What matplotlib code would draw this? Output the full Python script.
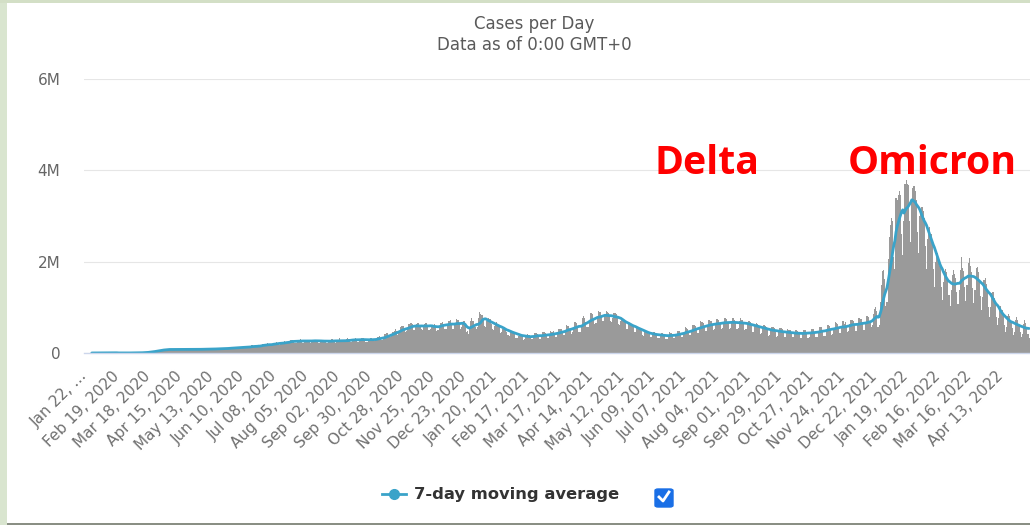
import matplotlib.pyplot as plt
import numpy as np
import pandas as pd
from matplotlib.lines import Line2D
from matplotlib.patches import Rectangle, FancyBboxPatch

# daily new cases (thousands), one row per week starting Wed Jan 22, 2020
cases_by_week = [
    [0.6, 0.3, 0.3, 0.7, 0.8, 1.4, 1.8],
    [1.8, 2.1, 2.6, 2.1, 2.6, 3.2, 3.9],
    [3.7, 3.2, 3.4, 2.7, 2.6, 2.1, 2.0],
    [2.0, 15.1, 6.5, 2.1, 2.6, 2.0, 1.9],
    [0.5, 0.6, 1.0, 0.7, 0.9, 0.6, 0.9],
    [1.1, 1.4, 1.9, 1.8, 2.0, 2.0, 2.4],
    [2.6, 2.7, 4.0, 3.9, 3.9, 4.2, 4.5],
    [7.4, 7.5, 11.0, 11.9, 13.8, 16.1, 14.3],
    [18.7, 27.5, 31.9, 31.4, 34.1, 41.2, 41.5],
    [49.5, 62.4, 62.2, 64.8, 58.7, 61.5, 73.5],
    [77.2, 81.8, 84.1, 83.6, 70.6, 69.8, 75.2],
    [80.2, 87.4, 90.9, 81.5, 74.4, 70.5, 76.1],
    [78, 84, 88, 80, 74, 72, 77],
    [81, 84, 90, 83, 72, 71, 76],
    [80, 86, 89, 85, 76, 75, 82],
    [90, 92, 94, 88, 77, 74, 85],
    [91, 98, 99, 92, 81, 80, 93],
    [101, 107, 106, 103, 85, 85, 94],
    [107, 118, 125, 111, 99, 95, 106],
    [124, 130, 131, 128, 103, 107, 122],
    [136, 136, 144, 136, 113, 121, 141],
    [142, 180, 149, 155, 123, 132, 151],
    [169, 177, 178, 191, 163, 150, 167],
    [191, 210, 202, 186, 170, 166, 210],
    [216, 229, 237, 211, 184, 191, 221],
    [232, 245, 258, 246, 206, 216, 239],
    [285, 290, 286, 255, 213, 229, 255],
    [295, 290, 296, 262, 213, 228, 264],
    [280, 290, 292, 265, 224, 230, 275],
    [294, 290, 290, 259, 218, 227, 275],
    [280, 285, 283, 256, 216, 226, 263],
    [283, 289, 296, 268, 230, 227, 266],
    [282, 290, 322, 268, 236, 230, 246],
    [293, 302, 318, 296, 251, 246, 278],
    [312, 314, 326, 296, 249, 256, 287],
    [322, 318, 329, 289, 248, 246, 286],
    [312, 338, 320, 290, 255, 257, 303],
    [347, 358, 365, 337, 292, 283, 324],
    [410, 430, 440, 405, 345, 360, 410],
    [470, 480, 515, 485, 405, 435, 490],
    [560, 585, 600, 530, 470, 480, 540],
    [625, 645, 660, 630, 500, 510, 570],
    [628, 649, 664, 613, 515, 498, 570],
    [635, 660, 662, 613, 506, 528, 568],
    [620, 590, 640, 600, 490, 510, 590],
    [655, 667, 688, 636, 527, 533, 610],
    [692, 707, 720, 648, 525, 528, 628],
    [735, 730, 720, 645, 535, 560, 640],
    [690, 600, 470, 480, 420, 540, 710],
    [770, 700, 560, 560, 520, 560, 760],
    [890, 850, 840, 730, 590, 580, 700],
    [750, 760, 740, 640, 520, 510, 600],
    [660, 670, 640, 560, 440, 450, 520],
    [570, 560, 530, 470, 390, 380, 450],
    [490, 480, 470, 410, 330, 330, 380],
    [420, 420, 410, 380, 290, 300, 350],
    [410, 400, 390, 360, 300, 310, 370],
    [440, 430, 420, 380, 310, 310, 370],
    [460, 450, 440, 400, 330, 320, 400],
    [490, 470, 480, 430, 360, 350, 430],
    [530, 530, 530, 470, 390, 400, 490],
    [620, 600, 590, 520, 420, 460, 540],
    [680, 680, 660, 590, 470, 470, 570],
    [760, 800, 760, 680, 560, 560, 690],
    [880, 880, 860, 750, 630, 650, 780],
    [930, 900, 900, 820, 690, 710, 830],
    [920, 900, 880, 810, 690, 680, 770],
    [870, 870, 860, 770, 630, 620, 710],
    [760, 740, 720, 650, 530, 530, 630],
    [660, 640, 630, 560, 470, 460, 540],
    [570, 560, 550, 490, 400, 380, 460],
    [490, 490, 470, 420, 340, 340, 410],
    [460, 450, 440, 390, 320, 320, 380],
    [440, 430, 420, 380, 310, 310, 370],
    [450, 440, 430, 390, 320, 320, 400],
    [490, 480, 480, 430, 350, 350, 430],
    [560, 550, 530, 470, 390, 400, 490],
    [620, 620, 600, 540, 440, 440, 540],
    [690, 680, 660, 590, 490, 490, 600],
    [720, 720, 700, 630, 510, 520, 640],
    [740, 750, 720, 650, 530, 550, 680],
    [760, 760, 740, 660, 530, 550, 690],
    [770, 760, 730, 650, 520, 540, 690],
    [760, 730, 720, 630, 500, 530, 660],
    [710, 690, 680, 590, 470, 470, 610],
    [660, 640, 620, 550, 420, 430, 570],
    [610, 590, 570, 500, 380, 400, 510],
    [570, 560, 550, 470, 360, 370, 480],
    [540, 540, 520, 450, 350, 350, 460],
    [520, 510, 500, 430, 340, 340, 430],
    [500, 500, 490, 420, 330, 330, 430],
    [510, 510, 500, 430, 330, 340, 440],
    [530, 530, 520, 450, 350, 360, 460],
    [570, 570, 560, 480, 370, 380, 500],
    [620, 620, 600, 520, 400, 410, 530],
    [670, 660, 640, 560, 440, 440, 570],
    [700, 630, 680, 600, 470, 480, 630],
    [730, 720, 710, 620, 480, 490, 640],
    [770, 760, 740, 650, 500, 510, 670],
    [800, 820, 790, 690, 560, 610, 860],
    [960, 1000, 930, 560, 620, 1120, 1480],
    [1800, 1820, 1620, 1040, 1120, 2060, 2530],
    [2800, 2950, 2900, 2100, 1850, 3400, 3350],
    [3450, 3550, 3450, 2600, 2150, 2900, 3700],
    [3780, 3700, 3680, 2890, 2430, 3300, 3620],
    [3650, 3550, 3350, 2650, 2200, 3000, 3150],
    [3200, 3100, 2950, 2350, 1850, 2500, 2650],
    [2750, 2600, 2400, 1850, 1450, 2000, 2150],
    [2200, 2050, 1900, 1450, 1150, 1550, 1800],
    [1840, 1770, 1600, 1280, 1030, 1390, 1700],
    [1820, 1730, 1650, 1330, 1070, 1370, 1820],
    [2100, 1870, 1800, 1450, 1140, 1480, 1960],
    [2070, 1900, 1770, 1430, 1100, 1370, 1860],
    [1890, 1780, 1600, 1250, 950, 1220, 1600],
    [1640, 1510, 1380, 1010, 790, 1000, 1320],
    [1330, 1200, 1050, 780, 620, 760, 980],
    [1020, 950, 820, 610, 460, 560, 800],
    [860, 800, 700, 540, 400, 460, 720],
    [780, 720, 620, 450, 340, 410, 640],
    [720, 660, 580, 420, 330],
]

tick_labels = [
    "Jan 22, \u2026", "Feb 19, 2020", "Mar 18, 2020", "Apr 15, 2020", "May 13, 2020",
    "Jun 10, 2020", "Jul 08, 2020", "Aug 05, 2020", "Sep 02, 2020", "Sep 30, 2020",
    "Oct 28, 2020", "Nov 25, 2020", "Dec 23, 2020", "Jan 20, 2021", "Feb 17, 2021",
    "Mar 17, 2021", "Apr 14, 2021", "May 12, 2021", "Jun 09, 2021", "Jul 07, 2021",
    "Aug 04, 2021", "Sep 01, 2021", "Sep 29, 2021", "Oct 27, 2021", "Nov 24, 2021",
    "Dec 22, 2021", "Jan 19, 2022", "Feb 16, 2022", "Mar 16, 2022", "Apr 13, 2022",
]
y_ticks = [0, 2e6, 4e6, 6e6]
y_labels = ["0", "2M", "4M", "6M"]

cases = np.array([v for week in cases_by_week for v in week]) * 1000
days = np.arange(len(cases))
avg7 = pd.Series(cases).rolling(7).mean()

W, H = 1030, 525
fig = plt.figure(figsize=(W / 100, H / 100), dpi=100)


def fx(x):
    return x / W


def fy(y):
    return 1 - y / H


ax = fig.add_axes([fx(84), fy(353), fx(1030) - fx(84), fy(79) - fy(353)])
ax.bar(days, cases, width=1.0, color="#9a9a9a", linewidth=0, antialiased=False, zorder=2)
ax.plot(days, avg7, color="#3aa3c9", lw=2.0, zorder=3, solid_capstyle="round")

ax.set_xlim(-0.9, 837.8)
ax.set_ylim(0, 6e6)
ax.set_yticks(y_ticks)
ax.set_yticklabels(y_labels)
ax.set_xticks(np.arange(len(tick_labels)) * 28)
ax.set_xticklabels(tick_labels, rotation=45, ha="right", va="center", rotation_mode="anchor")
ax.tick_params(axis="y", length=0, pad=17, labelsize=11, labelcolor="#666666")
ax.tick_params(axis="x", length=0, pad=15, labelsize=11, labelcolor="#707070")
ax.grid(axis="y", color="#e6e6e6", lw=0.8, zorder=0)
ax.set_axisbelow(True)
for s in ["top", "right", "left"]:
    ax.spines[s].set_visible(False)
ax.spines["bottom"].set_color("#ccd6eb")
ax.spines["bottom"].set_linewidth(1.0)
ax.spines["bottom"].set_zorder(4)

fig.text(fx(534), fy(24), "Cases per Day", ha="center", va="center", fontsize=12, color="#5a5a5a")
fig.text(fx(534), fy(45), "Data as of 0:00 GMT+0", ha="center", va="center", fontsize=12, color="#5a5a5a")

fig.text(fx(655), fy(174), "Delta", fontfamily="Open Sans", fontweight="bold", fontsize=28.3,
         color="#ff0000", ha="left", va="baseline")
fig.text(fx(848), fy(174), "Omicron", fontfamily="Open Sans", fontweight="bold", fontsize=28.3,
         color="#ff0000", ha="left", va="baseline")

# legend
fig.add_artist(Line2D([fx(382), fx(406)], [fy(494), fy(494)], color="#3aa3c9", lw=2.0))
fig.add_artist(Line2D([fx(394)], [fy(494)], marker="o", markersize=7, color="#3aa3c9"))
fig.text(fx(414), fy(494), "7-day moving average", ha="left", va="center", fontsize=11.8,
         fontweight="bold", color="#333333")
fig.add_artist(FancyBboxPatch((fx(655), fy(507)), fx(18), 18 / H, boxstyle="round,pad=0,rounding_size=0.003",
                              transform=fig.transFigure, color="#1a6fe6"))
fig.add_artist(Line2D([fx(659), fx(663), fx(669)], [fy(497), fy(501), fy(492)], color="white", lw=2.0))

# page frame
fig.add_artist(Rectangle((0, 0), fx(7), 1, transform=fig.transFigure, color="#d9e5cf", lw=0))
fig.add_artist(Rectangle((0, fy(3)), 1, 3 / H, transform=fig.transFigure, color="#d3dfc6", lw=0))
fig.add_artist(Rectangle((fx(7), 0), 1, 2.5 / H, transform=fig.transFigure, color="#8a8f84", lw=0))

fig.savefig("out.png", dpi=100)
